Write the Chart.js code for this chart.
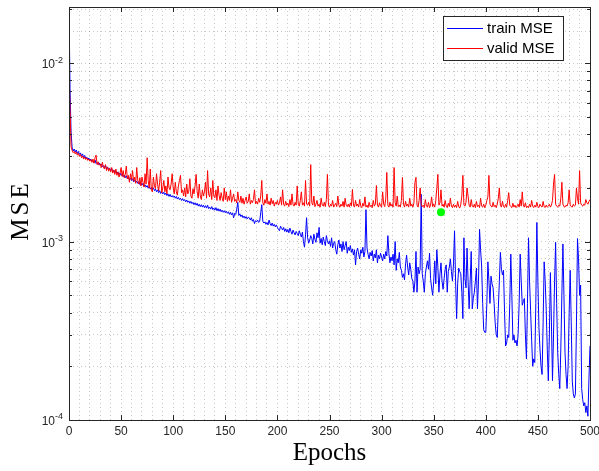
<!DOCTYPE html>
<html>
<head>
<meta charset="utf-8">
<script src="https://cdn.jsdelivr.net/npm/chart.js@4.4.0/dist/chart.umd.min.js"></script>
<style>
  html, body { margin: 0; padding: 0; background: #fff; }
  canvas { display: block; }
</style>
</head>
<body>
<canvas id="mseChart" width="599" height="471"></canvas>
<script>
// MSE per epoch (0..500), in units of 1e-3
const trainMSE = [
  20.6, 7.2, 4.1, 3.35, 3.22, 3.3, 3.18, 3.26, 3.12, 3.2,
  3.08, 3.14, 3.02, 3.1, 2.96, 3.04, 2.92, 2.98, 2.88, 2.94,
  2.86, 2.9, 2.82, 2.84, 2.76, 2.86, 2.74, 2.78, 2.7, 2.76,
  2.68, 2.72, 2.63, 2.66, 2.6, 2.68, 2.56, 2.62, 2.54, 2.58,
  2.5, 2.56, 2.46, 2.52, 2.43, 2.48, 2.4, 2.46, 2.37, 2.42,
  2.35, 2.4, 2.31, 2.36, 2.28, 2.34, 2.25, 2.3, 2.22, 2.27,
  2.2, 2.25, 2.16, 2.22, 2.14, 2.18, 2.12, 2.17, 2.09, 2.13,
  2.07, 2.12, 2.04, 2.08, 2.02, 2.06, 1.99, 2.04, 1.97, 2.01,
  1.95, 2.0, 1.93, 1.97, 1.9, 1.95, 1.88, 1.93, 1.86, 1.9,
  1.85, 1.89, 1.83, 1.87, 1.81, 1.85, 1.79, 1.84, 1.78, 1.81,
  1.77, 1.8, 1.75, 1.79, 1.73, 1.77, 1.72, 1.75, 1.7, 1.74,
  1.69, 1.72, 1.67, 1.71, 1.66, 1.69, 1.64, 1.68, 1.63, 1.66,
  1.61, 1.65, 1.6, 1.64, 1.58, 1.62, 1.57, 1.61, 1.56, 1.6,
  1.55, 1.59, 1.54, 1.6, 1.53, 1.56, 1.52, 1.57, 1.51, 1.54,
  1.5, 1.55, 1.49, 1.53, 1.48, 1.52, 1.47, 1.5, 1.46, 1.49,
  1.45, 1.48, 1.44, 1.47, 1.42, 1.46, 1.41, 1.45, 1.36, 1.44,
  1.42, 1.52, 1.66, 1.4, 1.43, 1.38, 1.41, 1.36, 1.39, 1.35,
  1.38, 1.34, 1.37, 1.36, 1.32, 1.36, 1.3, 1.33, 1.26, 1.31,
  1.29, 1.32, 1.28, 1.3, 1.45, 1.61, 1.3, 1.27, 1.29, 1.25,
  1.28, 1.24, 1.32, 1.26, 1.23, 1.27, 1.22, 1.25, 1.21, 1.24,
  1.2, 1.17, 1.15, 1.22, 1.19, 1.16, 1.2, 1.14, 1.18, 1.13,
  1.17, 1.12, 1.19, 1.14, 1.1, 1.16, 1.12, 1.09, 1.14, 1.11,
  1.08, 1.15, 1.1, 1.06, 1.13, 1.0, 0.93, 1.09, 1.36, 1.05,
  0.98, 1.02, 1.08, 1.04, 0.97, 1.1, 1.03, 0.99, 1.12, 1.05,
  1.2, 0.98, 1.04, 0.96, 1.06, 1.0, 0.95, 1.08, 1.01, 0.97,
  1.01, 0.94, 1.05, 0.92, 0.98, 1.0, 0.9, 0.85, 0.96, 1.02,
  0.92, 0.97, 0.88, 1.0, 0.9, 0.95, 1.0, 0.86, 0.93, 0.89,
  0.95, 0.87, 0.91, 0.84, 0.9, 0.74, 0.88, 0.92, 0.85, 0.8,
  0.9, 0.86, 0.93, 0.82, 0.88, 1.51, 0.92, 0.85, 0.8, 0.87,
  0.83, 0.89, 0.78, 0.85, 0.81, 0.9, 0.76, 0.84, 0.8, 0.86,
  0.82, 0.78, 0.85, 0.8, 0.88, 0.83, 1.08, 0.86, 0.76, 0.82,
  0.78, 0.85, 0.74, 1.0, 0.69, 0.8, 0.76, 0.87, 0.72, 0.69,
  0.63, 0.66, 0.61, 0.75, 0.84, 0.72, 0.65, 0.76, 0.7, 0.62,
  0.6, 0.52, 0.6, 0.88, 0.52, 0.72, 0.66, 0.7, 1.84, 0.66,
  0.6, 0.52, 0.66, 0.72, 0.78, 0.7, 0.86, 0.62, 0.55, 0.5,
  0.6, 0.78, 0.58, 0.9, 0.72, 0.52, 0.66, 0.76, 0.6, 0.54,
  0.62, 0.7, 0.74, 0.52, 0.68, 0.72, 0.8, 0.68, 0.6, 0.75,
  1.15, 0.6, 0.37, 0.58, 0.71, 0.68, 0.66, 0.52, 0.37, 1.05,
  0.62, 0.55, 0.92, 0.6, 0.42, 0.6, 0.88, 0.42, 0.48, 0.52,
  0.6, 0.71, 0.42, 0.6, 1.17, 0.9, 0.73, 0.45, 0.32, 0.31,
  0.31, 0.45, 0.77, 0.6, 0.45, 0.64, 0.58, 0.55, 0.45, 0.35,
  0.3, 0.29, 0.42, 0.6, 0.87, 0.7, 0.65, 0.69, 0.4, 0.26,
  0.27, 0.3, 0.29, 0.45, 0.85, 0.5, 0.28, 0.3, 0.27, 0.28,
  0.26, 0.3, 0.45, 0.85, 0.6, 0.44, 0.46, 0.48, 0.3, 0.22,
  0.45, 1.05, 0.6, 0.41, 0.28, 0.2, 0.22, 0.21, 0.45, 1.28,
  0.6, 0.33, 0.25, 0.2, 0.18, 0.35, 0.77, 0.6, 0.41, 0.25,
  0.166, 0.3, 0.67, 0.35, 0.166, 0.3, 0.6, 0.99, 0.45, 0.24,
  0.18, 0.15, 0.25, 0.5, 0.97, 0.5, 0.24, 0.18, 0.15, 0.2,
  0.4, 0.69, 0.35, 0.165, 0.14, 0.133, 0.14, 0.35, 1.04, 0.8,
  0.5, 0.57, 0.15, 0.13, 0.12, 0.125, 0.11, 0.12, 0.105, 0.17,
  0.26
];

const validMSE = [
  9.6, 5.5, 3.4, 3.25, 3.15, 3.2, 3.1, 3.18, 3.05, 3.12,
  3.0, 3.08, 2.95, 3.02, 2.9, 2.98, 2.88, 2.95, 2.85, 2.9,
  2.82, 2.88, 2.78, 2.9, 2.75, 2.95, 3.05, 2.7, 2.8, 2.68,
  2.72, 2.6, 2.78, 2.62, 2.55, 2.7, 2.5, 2.62, 2.48, 2.58,
  2.45, 2.6, 2.42, 2.52, 2.38, 2.55, 2.35, 2.45, 2.3, 2.42,
  2.6, 2.32, 2.5, 2.28, 2.38, 2.65, 2.25, 2.35, 2.15, 2.4,
  2.22, 2.5, 2.18, 2.3, 2.12, 2.6, 2.2, 2.1, 2.28, 2.05,
  2.3, 2.15, 2.02, 2.4, 2.1, 2.95, 2.2, 2.0, 2.55, 1.95,
  1.9, 2.3, 2.05, 1.98, 2.4, 2.1, 1.92, 2.15, 2.5, 1.88,
  2.0, 2.2, 1.9, 2.05, 1.85, 2.3, 2.0, 1.95, 2.1, 2.4,
  2.0, 1.85, 2.15, 1.9, 1.82, 2.05, 2.2, 2.35, 1.88, 1.95,
  1.8, 2.0, 1.78, 2.1, 1.85, 1.92, 2.25, 1.8, 1.75, 1.98,
  1.85, 2.05, 2.38, 1.9, 1.75, 2.1, 1.8, 1.72, 1.95, 1.8,
  1.9, 2.15, 1.75, 2.5, 1.85, 1.78, 2.0, 1.72, 2.2, 1.8,
  1.76, 1.95, 1.7, 2.05, 1.82, 1.7, 1.88, 1.75, 1.68, 2.0,
  1.72, 1.9, 1.68, 1.8, 1.7, 1.95, 1.66, 1.75, 1.85, 1.68,
  1.72, 1.65, 1.9, 1.7, 1.66, 1.8, 1.64, 1.75, 1.62, 1.7,
  1.78, 1.64, 1.68, 1.85, 1.62, 1.7, 1.65, 1.72, 1.95, 1.63,
  1.68, 1.62, 1.75, 1.66, 1.8, 2.2, 1.65, 1.6, 1.72, 1.64,
  1.85, 1.62, 1.68, 1.6, 1.75, 1.63, 1.7, 1.58, 1.66, 1.62,
  1.7, 1.6, 1.65, 1.78, 1.6, 1.95, 1.62, 1.58, 1.68, 1.6,
  1.64, 1.57, 1.72, 1.6, 1.85, 1.62, 1.58, 1.66, 1.6, 2.05,
  1.62, 1.58, 1.7, 1.9, 1.6, 1.65, 1.58, 2.2, 1.62, 1.6,
  1.66, 1.58, 2.7, 1.65, 1.6, 1.8, 1.57, 1.62, 1.7, 1.58,
  1.62, 1.56, 1.75, 1.6, 1.58, 1.66, 1.57, 1.72, 2.38, 1.6,
  1.56, 1.62, 1.58, 1.7, 1.56, 1.6, 1.64, 1.57, 1.8, 1.6,
  1.56, 1.62, 1.58, 1.68, 1.56, 1.75, 1.6, 1.57, 1.62, 1.56,
  1.65, 1.58, 1.96, 1.6, 1.56, 1.7, 1.58, 1.62, 1.56, 1.72,
  1.58, 1.55, 1.64, 1.58, 1.78, 1.56, 1.6, 1.55, 1.66, 1.57,
  1.6, 1.55, 1.7, 1.58, 1.62, 2.06, 1.6, 1.56, 1.65, 1.58,
  1.56, 1.9, 1.62, 1.57, 1.75, 2.44, 1.6, 1.56, 1.66, 1.58,
  1.62, 1.56, 2.6, 1.65, 1.58, 1.8, 1.57, 1.6, 1.56, 1.7,
  2.29, 1.62, 1.56, 1.68, 1.58, 1.62, 1.56, 1.75, 1.58, 1.62,
  1.56, 1.64, 2.15, 2.29, 1.6, 1.56, 1.7, 2.0, 1.62, 1.57,
  1.6, 1.55, 1.72, 1.58, 1.56, 1.66, 1.55, 1.6, 1.78, 1.57,
  1.62, 1.56, 1.7, 2.0, 2.38, 1.6, 1.65, 1.95, 1.58, 1.62,
  1.56, 1.7, 1.58, 1.55, 1.64, 1.57, 1.75, 1.58, 1.55, 1.62,
  1.56, 1.6, 1.55, 1.68, 1.57, 1.54, 1.62, 1.8, 2.35, 1.6,
  1.58, 1.66, 2.0, 1.8, 1.6, 1.56, 1.72, 1.58, 1.56, 1.62,
  1.55, 1.68, 1.57, 1.6, 1.55, 1.75, 1.58, 1.56, 1.62, 1.55,
  1.6, 1.7, 1.78, 2.35, 1.62, 1.58, 1.56, 1.66, 1.57, 1.6,
  1.55, 1.62, 1.75, 2.0, 1.6, 1.56, 1.68, 1.57, 1.55, 1.62,
  1.56, 1.7, 1.88, 1.6, 1.57, 1.55, 1.64, 1.56, 1.6, 1.55,
  1.58, 1.62, 1.56, 1.72, 1.58, 1.9, 1.6, 1.56, 1.65, 1.55,
  1.58, 1.55, 1.62, 1.56, 1.7, 1.58, 1.55, 1.6, 1.56, 1.66,
  1.57, 1.55, 1.62, 1.58, 1.56, 1.68, 1.57, 1.55, 1.6, 1.56,
  1.58, 1.62, 1.56, 1.6, 1.7, 2.1, 2.38, 1.62, 1.58, 1.56,
  1.6, 1.58, 1.75, 2.15, 1.62, 1.57, 1.56, 1.6, 1.58, 1.65,
  1.95, 1.6, 1.57, 1.56, 1.62, 1.58, 1.6, 2.0, 1.75, 1.62,
  2.5, 1.65, 1.6, 1.58, 1.62, 1.6, 1.72, 1.65, 1.62, 1.68,
  1.72
];

// best validation point (green marker)
const bestEpoch = [357];
const bestMSE = [1.46];

const xTickLabels = [0, 50, 100, 150, 200, 250, 300, 350, 400, 450, 500];
const yDecades = [-4, -3, -2];

const UNIT = 1e-3;
const Y_MIN = 1e-4;
const Y_MAX = 2.064e-2;

const AXIS_COLOR = '#262626';
const SANS = '"Liberation Sans", Arial, Helvetica, sans-serif';
const SERIF = '"Liberation Serif", "DejaVu Serif", serif';

function toPoints(values, xs) {
  return values.map((v, i) => ({ x: xs ? xs[i] : i, y: v * UNIT }));
}

// MATLAB-like axes: box, inward ticks, tick labels, titles, legend
const matlabAxes = {
  id: 'matlabAxes',
  afterDraw(chart) {
    const { ctx, chartArea: a, scales: { x, y } } = chart;
    ctx.save();
    ctx.strokeStyle = AXIS_COLOR;
    ctx.lineWidth = 1;

    ctx.beginPath();
    xTickLabels.forEach(v => {
      const px = Math.round(x.getPixelForValue(v)) + 0.5;
      ctx.moveTo(px, a.bottom); ctx.lineTo(px, a.bottom - 5);
      ctx.moveTo(px, a.top); ctx.lineTo(px, a.top + 5);
    });
    yDecades.forEach(e => {
      for (let s = 1; s <= 9; s++) {
        const v = s * Math.pow(10, e);
        if (v > Y_MAX) break;
        const len = s === 1 ? 5 : 3;
        const py = Math.round(y.getPixelForValue(v)) + 0.5;
        ctx.moveTo(a.left, py); ctx.lineTo(a.left + len, py);
        ctx.moveTo(a.right, py); ctx.lineTo(a.right - len, py);
      }
    });
    ctx.stroke();

    ctx.strokeRect(Math.round(a.left) + 0.5, Math.round(a.top) + 0.5,
      Math.round(a.right - a.left), Math.round(a.bottom - a.top));

    // x tick labels
    ctx.fillStyle = AXIS_COLOR;
    ctx.font = '12px ' + SANS;
    ctx.textAlign = 'center';
    ctx.textBaseline = 'middle';
    xTickLabels.forEach(v => {
      ctx.fillText(String(v), x.getPixelForValue(v), a.bottom + 12);
    });

    // y tick labels 10^e
    yDecades.forEach(e => {
      const py = y.getPixelForValue(Math.pow(10, e));
      const exp = String(e);
      ctx.font = '9px ' + SANS;
      const we = ctx.measureText(exp).width;
      const right = a.left - 6;
      ctx.textAlign = 'left';
      ctx.fillText(exp, right - we, py - 3);
      ctx.font = '12px ' + SANS;
      ctx.textAlign = 'right';
      ctx.fillText('10', right - we, py + 2);
    });

    // axis titles
    ctx.fillStyle = '#000';
    ctx.font = '25px ' + SERIF;
    ctx.textAlign = 'center';
    ctx.textBaseline = 'alphabetic';
    ctx.fillText('Epochs', (a.left + a.right) / 2, 460);

    ctx.save();
    ctx.translate(28, (a.top + a.bottom) / 2 - 3);
    ctx.rotate(-Math.PI / 2);
    ctx.letterSpacing = '3px';
    ctx.fillText('MSE', 0, 0);
    ctx.restore();

    // legend
    const box = { x: 443.5, y: 16.5, w: 120, h: 44 };
    ctx.fillStyle = '#fff';
    ctx.fillRect(box.x, box.y, box.w, box.h);
    ctx.strokeStyle = AXIS_COLOR;
    ctx.strokeRect(box.x, box.y, box.w, box.h);
    const items = chart.data.datasets.filter(d => d.inLegend);
    items.sort((p, q) => p.legendRow - q.legendRow);
    ctx.font = '15px ' + SANS;
    ctx.textAlign = 'left';
    ctx.textBaseline = 'middle';
    items.forEach((d, i) => {
      const ly = 28.5 + i * 20;
      ctx.strokeStyle = d.borderColor;
      ctx.beginPath();
      ctx.moveTo(447, ly); ctx.lineTo(483, ly);
      ctx.stroke();
      ctx.fillStyle = '#000';
      ctx.fillText(d.label, 487, ly + 0.5);
    });

    ctx.restore();
  }
};

new Chart(document.getElementById('mseChart'), {
  type: 'line',
  data: {
    datasets: [
      {
        label: 'best',
        type: 'scatter',
        data: toPoints(bestMSE, bestEpoch),
        pointRadius: 4,
        pointBackgroundColor: '#00ff00',
        pointBorderWidth: 0,
        order: 0
      },
      {
        label: 'valid MSE',
        data: toPoints(validMSE),
        borderColor: '#ff0000',
        borderWidth: 1,
        pointRadius: 0,
        tension: 0,
        inLegend: true,
        legendRow: 1,
        order: 1
      },
      {
        label: 'train MSE',
        data: toPoints(trainMSE),
        borderColor: '#0000ff',
        borderWidth: 1,
        pointRadius: 0,
        tension: 0,
        inLegend: true,
        legendRow: 0,
        order: 2
      }
    ]
  },
  options: {
    responsive: false,
    animation: false,
    devicePixelRatio: 1,
    layout: { padding: { top: 7, right: 9, left: 0, bottom: 0 } },
    plugins: {
      legend: { display: false },
      tooltip: { enabled: false }
    },
    scales: {
      x: {
        type: 'linear',
        min: 0,
        max: 500,
        ticks: { display: false, stepSize: 10 },
        grid: { color: 'rgba(0,0,0,0.22)', drawTicks: false },
        border: { display: false, dash: [1, 3] },
        afterFit(scale) { scale.height = 51; }
      },
      y: {
        type: 'logarithmic',
        min: Y_MIN,
        max: Y_MAX,
        ticks: { display: false },
        grid: { color: 'rgba(0,0,0,0.22)', drawTicks: false },
        border: { display: false, dash: [1, 3] },
        afterFit(scale) { scale.width = 69; }
      }
    }
  },
  plugins: [matlabAxes]
});
</script>
</body>
</html>
